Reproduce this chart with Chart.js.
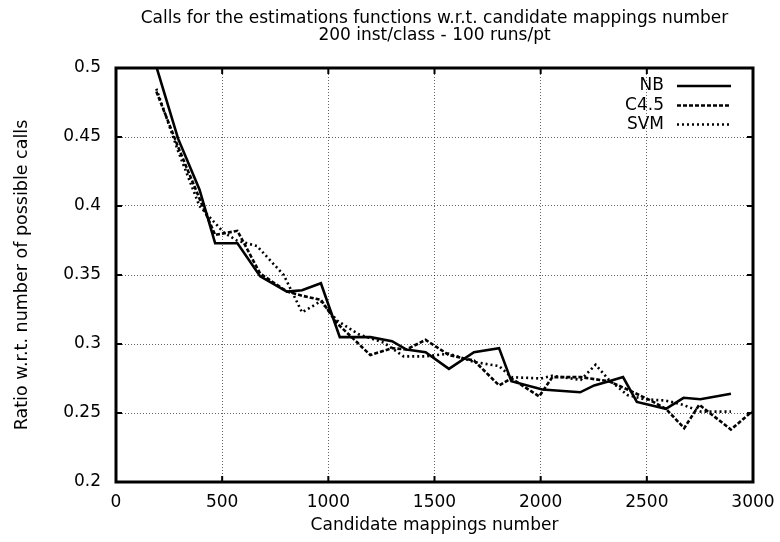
<!DOCTYPE html>
<html>
<head>
<meta charset="utf-8">
<script src="https://cdn.jsdelivr.net/npm/chart.js@4"></script>
<style>
html,body{margin:0;padding:0;background:#fff;}
#wrap{width:780px;height:542px;}
</style>
</head>
<body>
<div id="wrap"><canvas id="c" width="780" height="542"></canvas></div>
<script>
// ---- data ----
const titleLines = ["Calls for the estimations functions w.r.t. candidate mappings number", "200 inst/class - 100 runs/pt"];
const xAxisTitle = "Candidate mappings number";
const yAxisTitle = "Ratio w.r.t. number of possible calls";
const seriesNames = ["NB", "C4.5", "SVM"];

const nbX = [190, 292, 393, 467, 572, 679, 805, 876, 965, 1054, 1198, 1300, 1368, 1458, 1568, 1686, 1804, 1862, 2008, 2186, 2252, 2322, 2388, 2453, 2590, 2673, 2752, 2896];
const nbY = [0.501, 0.449, 0.412, 0.373, 0.373, 0.349, 0.338, 0.339, 0.344, 0.305, 0.305, 0.302, 0.296, 0.294, 0.282, 0.294, 0.297, 0.273, 0.267, 0.265, 0.270, 0.273, 0.276, 0.258, 0.253, 0.261, 0.260, 0.264];

const c45X = [190, 292, 405, 467, 572, 679, 805, 876, 965, 1041, 1198, 1300, 1368, 1458, 1568, 1686, 1804, 1862, 1993, 2055, 2189, 2322, 2409, 2519, 2590, 2676, 2747, 2896, 2995];
const c45Y = [0.483, 0.443, 0.401, 0.379, 0.382, 0.351, 0.338, 0.335, 0.332, 0.315, 0.292, 0.297, 0.296, 0.303, 0.292, 0.288, 0.270, 0.275, 0.262, 0.276, 0.276, 0.273, 0.267, 0.259, 0.253, 0.239, 0.256, 0.238, 0.251];

const svmX = [190, 292, 393, 506, 569, 664, 790, 876, 965, 1041, 1143, 1261, 1355, 1458, 1568, 1686, 1804, 1862, 2000, 2055, 2189, 2259, 2322, 2409, 2487, 2590, 2668, 2755, 2896];
const svmY = [0.485, 0.440, 0.400, 0.381, 0.375, 0.371, 0.350, 0.323, 0.331, 0.317, 0.307, 0.301, 0.291, 0.291, 0.293, 0.287, 0.284, 0.276, 0.275, 0.277, 0.274, 0.285, 0.274, 0.263, 0.260, 0.259, 0.256, 0.251, 0.251];

const xMin = 0, xMax = 3000, xStep = 500;
const yMin = 0.2, yMax = 0.5, yStep = 0.05;

// ---- styles ----
const FONT = "'DejaVu Sans', sans-serif";
const FSIZE = 17;
const styles = [
  {width: 2.6, dash: []},
  {width: 2.6, dash: [4, 2]},
  {width: 2.6, dash: [2, 3]}
];

function pts(xs, ys){ return xs.map((x, i) => ({x: x, y: ys[i]})); }

const seriesData = [pts(nbX, nbY), pts(c45X, c45Y), pts(svmX, svmY)];

const decor = {
  id: 'decor',
  afterDatasetsDraw(chart){
    const ctx = chart.ctx;
    const a = chart.chartArea;
    const xs = chart.scales.x, ys = chart.scales.y;
    ctx.save();
    // inward tick marks on all four sides
    ctx.strokeStyle = '#000';
    ctx.lineWidth = 2;
    ctx.setLineDash([]);
    xs.ticks.forEach(t => {
      const px = xs.getPixelForValue(t.value);
      ctx.beginPath();
      ctx.moveTo(px, a.bottom); ctx.lineTo(px, a.bottom - 6);
      ctx.moveTo(px, a.top); ctx.lineTo(px, a.top + 6);
      ctx.stroke();
    });
    ys.ticks.forEach(t => {
      const py = ys.getPixelForValue(t.value);
      ctx.beginPath();
      ctx.moveTo(a.left, py); ctx.lineTo(a.left + 6, py);
      ctx.moveTo(a.right, py); ctx.lineTo(a.right - 6, py);
      ctx.stroke();
    });
    // frame
    ctx.lineWidth = 3;
    ctx.strokeRect(a.left, a.top, a.right - a.left, a.bottom - a.top);

    // titles
    ctx.fillStyle = '#000';
    ctx.font = FSIZE + 'px ' + FONT;
    ctx.textAlign = 'center';
    ctx.textBaseline = 'middle';
    const cx = (a.left + a.right) / 2;
    ctx.fillText(titleLines[0], cx, 19);
    ctx.fillText(titleLines[1], cx, 36);
    ctx.fillText(xAxisTitle, cx, 526);
    ctx.save();
    ctx.font = '17.5px ' + FONT;
    ctx.translate(22, (a.top + a.bottom) / 2);
    ctx.rotate(-Math.PI / 2);
    ctx.fillText(yAxisTitle, 0, 0);
    ctx.restore();

    // legend
    const legY = [86, 105.5, 124.5];
    chart.data.datasets.forEach((ds, i) => {
      ctx.textAlign = 'right';
      ctx.fillStyle = '#000';
      ctx.fillText(ds.label, 664, legY[i]);
      ctx.beginPath();
      ctx.lineWidth = ds.borderWidth;
      ctx.setLineDash(ds.borderDash || []);
      ctx.moveTo(677, legY[i]);
      ctx.lineTo(731, legY[i]);
      ctx.stroke();
    });
    ctx.restore();
  }
};

new Chart(document.getElementById('c'), {
  type: 'line',
  data: {
    datasets: seriesNames.map((name, i) => ({
      label: name,
      data: seriesData[i],
      borderColor: '#000',
      backgroundColor: '#000',
      borderWidth: styles[i].width,
      borderDash: styles[i].dash,
      pointRadius: 0,
      tension: 0,
      fill: false
    }))
  },
  options: {
    responsive: false,
    animation: false,
    devicePixelRatio: 1,
    layout: {padding: {top: 68, right: 27, left: 0, bottom: 0}},
    plugins: {legend: {display: false}, title: {display: false}, tooltip: {enabled: false}},
    scales: {
      x: {
        type: 'linear', min: xMin, max: xMax,
        afterFit: s => { s.height = 60; s.paddingLeft = 0; s.paddingRight = 0; },
        ticks: {stepSize: xStep, color: '#000', font: {family: FONT, size: FSIZE}, padding: 10, maxRotation: 0,
                callback: v => String(v)},
        grid: {color: 'rgba(0,0,0,0.6)', lineWidth: 1, drawTicks: false},
        border: {display: false, dash: [1, 2]}
      },
      y: {
        type: 'linear', min: yMin, max: yMax,
        afterFit: s => { s.width = 116; s.paddingTop = 0; s.paddingBottom = 0; },
        ticks: {stepSize: yStep, color: '#000', font: {family: FONT, size: FSIZE}, padding: 15,
                callback: v => String(Number(v.toFixed(2)))},
        grid: {color: 'rgba(0,0,0,0.6)', lineWidth: 1, drawTicks: false},
        border: {display: false, dash: [1, 2]}
      }
    }
  },
  plugins: [decor]
});
</script>
</body>
</html>
